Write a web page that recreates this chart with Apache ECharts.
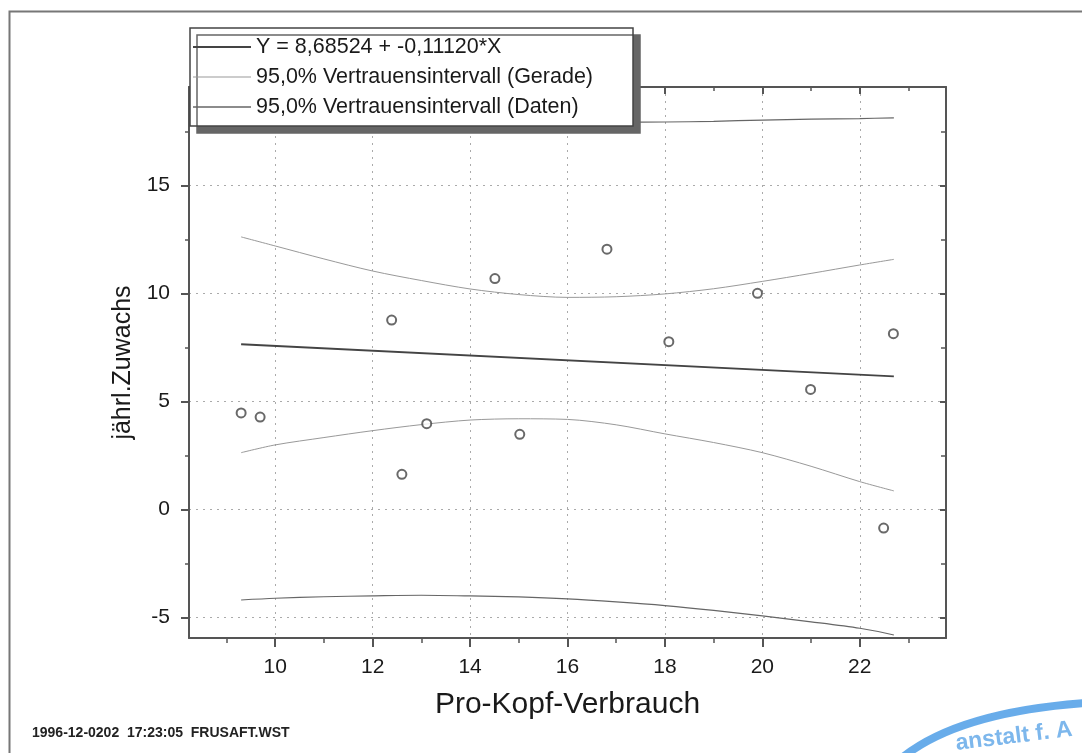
<!DOCTYPE html>
<html><head><meta charset="utf-8">
<script src="https://cdn.jsdelivr.net/npm/echarts@6/dist/echarts.min.js"></script>
<style>html,body{margin:0;padding:0;background:#fff}#c{width:1082px;height:753px}</style>
</head><body><div id="c"></div>
<script>
// ---- data ----
const scatterX = [9.30, 9.69, 12.39, 12.60, 13.11, 14.51, 15.02, 16.81, 18.08, 19.90, 20.99, 22.49, 22.69];
const scatterY = [4.47, 4.28, 8.77, 1.63, 3.97, 10.69, 3.48, 12.05, 7.77, 10.01, 5.56, -0.86, 8.14];
const fitX = [9.3, 22.7];
const fitY = [7.65, 6.16];
const bandX = [9.3, 10, 11, 12, 13, 14, 15, 16, 17, 18, 19, 20, 21, 22, 22.7];
const meanUpper = [12.62, 12.20, 11.60, 11.04, 10.60, 10.21, 9.95, 9.82, 9.85, 9.98, 10.22, 10.56, 10.93, 11.32, 11.58];
const meanLower = [2.63, 2.99, 3.33, 3.65, 3.93, 4.14, 4.20, 4.17, 3.92, 3.50, 3.10, 2.63, 2.00, 1.29, 0.86];
const predUpper = [19.49, 19.25, 18.97, 18.70, 18.47, 18.26, 18.08, 17.95, 17.93, 17.94, 17.97, 18.03, 18.07, 18.10, 18.13];
const predLower = [-4.19, -4.11, -4.04, -4.00, -3.97, -4.00, -4.05, -4.14, -4.28, -4.45, -4.67, -4.93, -5.20, -5.50, -5.81];
const xTicks = [10, 12, 14, 16, 18, 20, 22];
const xMinor = [9, 11, 13, 15, 17, 19, 21, 23];
const yTicks = [-5, 0, 5, 10, 15];
const yMinor = [-2.5, 2.5, 7.5, 12.5, 17.5];
const xRange = [8.23, 23.77];
const yRange = [-5.95, 19.56];
const nameFit = 'Y = 8,68524 + -0,11120*X';
const nameMean = '95,0% Vertrauensintervall (Gerade)';
const namePred = '95,0% Vertrauensintervall (Daten)';
const xName = 'Pro-Kopf-Verbrauch';
const yName = 'jährl.Zuwachs';
const footer = '1996-12-0202  17:23:05  FRUSAFT.WST';
const stampText = 'anstalt f. A';

const FONT = '"Liberation Sans", Arial, Helvetica, sans-serif';
const AX = '#555';
const TXT = '#1a1a1a';
const zip = (xs, ys) => xs.map((x, i) => [x, ys[i]]);

function axisBase(pos, isX) {
  const r = isX ? xRange : yRange;
  return {
    type: 'value', position: pos, min: r[0], max: r[1],
    axisLine: {show: false, onZero: false},
    axisTick: {show: false},
    axisLabel: {show: false},
    splitLine: {show: false}
  };
}
function tickAxis(pos, isX, vals, len, inside, width, line) {
  const a = axisBase(pos, isX);
  a.axisTick = {show: true, inside: inside, length: len, customValues: vals, lineStyle: {color: AX, width: width}};
  a.axisLabel = {show: false, customValues: vals};
  if (line) a.axisLine = {show: true, onZero: false, lineStyle: {color: AX, width: 2}};
  return a;
}

const xMain = tickAxis('bottom', true, xTicks, 9, false, 2, true);
xMain.axisLabel = {show: true, customValues: xTicks, margin: 19, fontSize: 21, color: TXT, fontFamily: FONT};
xMain.splitLine = {show: true, lineStyle: {type: [2, 5], color: '#aaa', width: 1}};
xMain.name = xName; xMain.nameLocation = 'middle'; xMain.nameGap = 52;
xMain.nameTextStyle = {fontSize: 30, color: TXT, fontFamily: FONT};

const yMain = tickAxis('left', false, yTicks, 8, false, 2, true);
yMain.axisLabel = {show: true, customValues: yTicks, margin: 19, fontSize: 21, color: TXT, fontFamily: FONT};
yMain.splitLine = {show: true, lineStyle: {type: [2, 5], color: '#aaa', width: 1}};
yMain.name = yName; yMain.nameLocation = 'middle'; yMain.nameGap = 52;
yMain.nameTextStyle = {fontSize: 25, color: TXT, fontFamily: FONT};

const lineSeries = (name, xs, ys, color, width) => ({
  type: 'line', name: name, data: zip(xs, ys), symbol: 'none', smooth: 0.3,
  lineStyle: {color: color, width: width}, itemStyle: {color: color}, z: 3
});

const option = {
  animation: false,
  backgroundColor: '#fff',
  grid: {left: 189, right: 136, top: 87, bottom: 115, containLabel: false},
  xAxis: [
    xMain,
    tickAxis('bottom', true, xMinor, 5, false, 1.5, false),
    tickAxis('top', true, xTicks, 7, true, 2, true),
    tickAxis('top', true, xMinor, 4, true, 1.5, false)
  ],
  yAxis: [
    yMain,
    tickAxis('left', false, yMinor, 4, false, 1.5, false),
    tickAxis('right', false, yTicks, 6, true, 2, true),
    tickAxis('right', false, yMinor, 5, true, 1.5, false)
  ],
  legend: {
    orient: 'vertical', left: 190, top: 28,
    data: [
      {name: nameFit, icon: 'path://M0,0h100v3.4h-100z'},
      {name: nameMean, icon: 'path://M0,0h100v1.8h-100z'},
      {name: namePred, icon: 'path://M0,0h100v2.6h-100z'}
    ],
    symbolKeepAspect: true,
    itemWidth: 58, itemHeight: 14, itemGap: 8,
    padding: [8, 40, 8, 3],
    backgroundColor: '#fff', borderColor: '#444', borderWidth: 1.5,
    shadowColor: '#666', shadowOffsetX: 7, shadowOffsetY: 7, shadowBlur: 0,
    textStyle: {fontSize: 21.5, color: TXT, fontFamily: FONT},
    selectedMode: false, z: 10
  },
  series: [
    lineSeries(nameFit, fitX, fitY, '#444', 1.8),
    lineSeries(nameMean, bandX, meanUpper, '#999', 1),
    lineSeries(nameMean, bandX, meanLower, '#999', 1),
    lineSeries(namePred, bandX, predUpper, '#666', 1.2),
    lineSeries(namePred, bandX, predLower, '#666', 1.2),
    {
      type: 'scatter', name: 'Daten', data: zip(scatterX, scatterY),
      symbol: 'emptyCircle', symbolSize: 9,
      itemStyle: {color: '#444', borderWidth: 2}, z: 4
    }
  ],
  graphic: [
    {type: 'rect', left: 7, top: 9, shape: {width: 1100, height: 800}, silent: true, z: -10,
     style: {fill: 'none', stroke: '#777', lineWidth: 2}},
    {type: 'text', left: 32, top: 726, silent: true,
     style: {text: footer, fontSize: 14, fontWeight: 'bold', fill: '#222', fontFamily: FONT}},
    {type: 'bezierCurve', silent: true,
     shape: {x1: 903, y1: 757, cpx1: 960, cpy1: 712, x2: 1086, y2: 703},
     style: {stroke: '#4d9de6', lineWidth: 8, fill: 'none', opacity: 0.85}},
    {type: 'text', x: 957, y: 755, rotation: 0.12, silent: true,
     style: {text: stampText, fontSize: 23, fontWeight: 'bold', fill: '#7db7ec', fontFamily: FONT, textVerticalAlign: 'bottom'}}
  ]
};
echarts.init(document.getElementById('c')).setOption(option);
</script></body></html>
